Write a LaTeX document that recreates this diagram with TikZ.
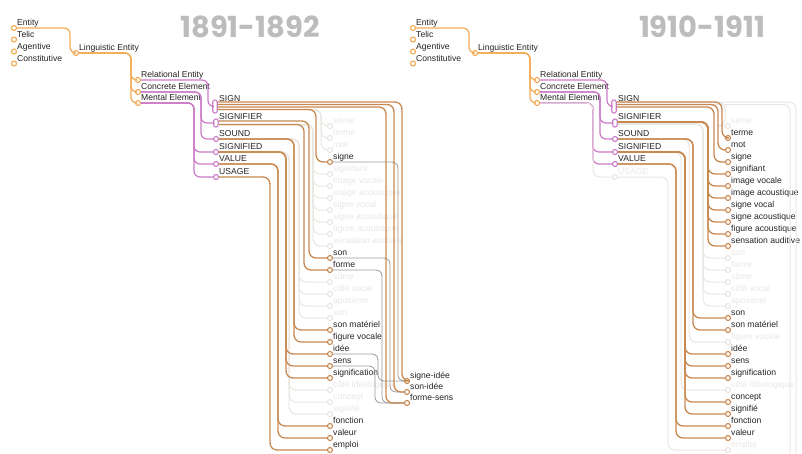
\documentclass[tikz,border=0pt]{standalone}
\usepackage{fontspec}
\setmainfont{Liberation Sans}
\newfontfamily\yearfont{Poppins}

\definecolor{lightor}{RGB}{243,170,85}
\definecolor{darkor}{RGB}{200,137,80}
\definecolor{pinkl}{RGB}{204,122,200}
\definecolor{txtc}{RGB}{35,35,35}
\definecolor{ghostc}{RGB}{234,230,226}
\definecolor{yearc}{RGB}{188,188,188}

\tikzset{
  knob/.style={circle, draw=#1, fill=white, line width=1.1pt, inner sep=0pt, minimum size=5pt},
  knob/.default=darkor,
  pill/.style={rounded corners=2pt, draw=pinkl, fill=white, line width=1.1pt, inner sep=0pt, minimum width=4.5pt, minimum height=#1},
  txt/.style={anchor=base west, inner sep=0pt, font=\fontsize{8.6}{9}\selectfont, text=txtc},
  faint/.style={txt, text=ghostc},
  topline/.style={draw=lightor, line width=1.2pt, rounded corners=6pt},
  pinkline/.style={draw=pinkl, line width=1.2pt, rounded corners=6pt},
  conn/.style={draw=darkor, line width=1.35pt, rounded corners=7pt},
  ghostline/.style={draw=ghostc, line width=1pt, rounded corners=7pt},
  grayline/.style={draw=black!40, line width=0.8pt, rounded corners=6pt},
  year/.style={font=\yearfont\bfseries\fontsize{29}{29}\selectfont, text=yearc}
}

\newcommand\term[5][darkor]{\node[knob=#1] (#2) at ({#3},{#4}) {};
  \node[txt] (#2-t) at ({#3+3},{#4-2.5}) {#5};}
\newcommand\ghost[4]{\node[knob=ghostc] (#1) at ({#2},{#3}) {};
  \node[faint] (#1-t) at ({#2+3},{#3-2.5}) {#4};}
\newcommand\branch[4][conn]{\draw[#1] (#2) -| (#4,0 |- #3) -- (#3);}

\newcommand\core[2]{%
  \term[lightor]{#1Entity}{#2+14}{28}{Entity}
  \term[lightor]{#1Telic}{#2+14}{39.5}{Telic}
  \term[lightor]{#1Agentive}{#2+14}{51.5}{Agentive}
  \term[lightor]{#1Constitutive}{#2+14}{63.5}{Constitutive}
  \term[lightor]{#1LingEntity}{#2+76}{53}{Linguistic Entity}
  \term[lightor]{#1RelEntity}{#2+138}{80}{Relational Entity}
  \term[lightor]{#1ConcElement}{#2+138}{92}{Concrete Element}
  \term[lightor]{#1MentElement}{#2+138}{103}{Mental Element}
  \node[pill=13pt] (#1SIGN) at ({#2+215},106.5) {};
  \node[txt] (#1SIGN-t) at ({#2+219},101) {SIGN};
  \node[pill=8pt] (#1SIGNIFIER) at ({#2+216},123) {};
  \node[txt] (#1SIGNIFIER-t) at ({#2+219},119.5) {SIGNIFIER};
  \term[pinkl]{#1SOUND}{#2+216}{139}{SOUND}
  \term[pinkl]{#1SIGNIFIED}{#2+216}{152}{SIGNIFIED}
  \term[pinkl]{#1VALUE}{#2+216}{164}{VALUE}
  \branch[topline]{#1Entity}{#1LingEntity}{#2+70}
  \branch[topline]{#1LingEntity}{#1RelEntity}{#2+131}
  \branch[topline]{#1LingEntity}{#1ConcElement}{#2+131}
  \branch[topline]{#1LingEntity}{#1MentElement}{#2+131}
  \branch[pinkline]{#1RelEntity}{#1SIGN}{#2+208}
  \branch[pinkline]{#1ConcElement}{#1SIGNIFIER}{#2+201}
  \branch[pinkline]{#1ConcElement}{#1SOUND}{#2+201}
  \branch[pinkline]{#1MentElement}{#1SIGNIFIED}{#2+194}
  \branch[pinkline]{#1MentElement}{#1VALUE}{#2+194}
}

\begin{document}
\begin{tikzpicture}[x=1pt,y=-1pt]
  \useasboundingbox (0,0) rectangle (802,453);

  \node[year] (L-year) at (250,27) {1891-1892};
  \node[year] (R-year) at (702,27) {1910-1911};

  \core{L-}{0}
  \core{R-}{399}

  \term[pinkl]{L-USAGE}{216}{177}{USAGE}
  \branch[pinkline]{L-MentElement}{L-USAGE}{194}
  \ghost{R-USAGE}{615}{177}{USAGE}
  \branch[ghostline]{R-MentElement}{R-USAGE}{593}

  % 1891-1892
  \ghost{L-seme}{330}{126}{sème}
  \ghost{L-terme}{330}{138}{terme}
  \ghost{L-mot}{330}{150}{mot}
  \term{L-signe}{330}{162}{signe}
  \ghost{L-signifiant}{330}{174}{signifiant}
  \ghost{L-imvoc}{330}{186}{image vocale}
  \ghost{L-imac}{330}{198}{image acoustique}
  \ghost{L-sgvoc}{330}{210}{signe vocal}
  \ghost{L-sgac}{330}{222}{signe acoustique}
  \ghost{L-figac}{330}{234}{figure acoustique}
  \ghost{L-sensaud}{330}{246}{sensation auditive}
  \term{L-son}{330}{258}{son}
  \term{L-forme}{330}{270}{forme}
  \ghost{L-some}{330}{282}{sôme}
  \ghost{L-cotevoc}{330}{294}{côté vocal}
  \ghost{L-aposeme}{330}{306}{aposème}
  \ghost{L-son2}{330}{318}{son}
  \term{L-sonmat}{330}{330}{son matériel}
  \term{L-figvoc}{330}{342}{figure vocale}
  \term{L-idee}{330}{354}{idée}
  \term{L-sens}{330}{366}{sens}
  \term{L-signif}{330}{378}{signification}
  \ghost{L-coteid}{330}{390}{côté idéologique}
  \ghost{L-concept}{330}{402}{concept}
  \ghost{L-signifie}{330}{414}{signifié}
  \term{L-fonction}{330}{426}{fonction}
  \term{L-valeur}{330}{438}{valeur}
  \term{L-emploi}{330}{450}{emploi}
  \term{L-signeidee}{407}{381}{signe-idée}
  \term{L-sonidee}{407}{392}{son-idée}
  \term{L-formesens}{407}{403}{forme-sens}

  \branch[ghostline]{[yshift=-3pt]L-SIGN.east}{L-seme}{321}
  \branch[ghostline]{[yshift=-3pt]L-SIGN.east}{L-terme}{321}
  \branch[ghostline]{[yshift=-3pt]L-SIGN.east}{L-mot}{321}
  \foreach \g in {signifiant,imvoc,imac,sgvoc,sgac,figac,sensaud}
    \branch[ghostline]{[yshift=-1.5pt]L-SIGNIFIER.east}{L-\g}{313};
  \foreach \g in {some,cotevoc,aposeme,son2}
    \branch[ghostline]{L-SOUND}{L-\g}{299};
  \foreach \g in {coteid,concept,signifie}
    \branch[ghostline]{L-SIGNIFIED}{L-\g}{289};

  \branch[grayline]{L-signe}{L-signeidee}{398}
  \branch[grayline]{L-son}{L-sonidee}{390}
  \branch[grayline]{L-forme}{L-formesens}{382}
  \branch[grayline]{L-idee}{L-signeidee}{378}
  \branch[grayline]{L-sens}{L-formesens}{375}

  \branch{[yshift=4.5pt]L-SIGN.east}{L-signeidee}{402}
  \branch{[yshift=2pt]L-SIGN.east}{L-sonidee}{394}
  \branch{[yshift=-0.5pt]L-SIGN.east}{L-formesens}{386}
  \branch{[yshift=-3pt]L-SIGN.east}{L-signe}{316}
  \branch{[yshift=2pt]L-SIGNIFIER.east}{L-son}{309}
  \branch{[yshift=-1.5pt]L-SIGNIFIER.east}{L-forme}{304}
  \branch{L-SOUND}{L-sonmat}{294}
  \branch{L-SOUND}{L-figvoc}{294}
  \branch{L-SIGNIFIED}{L-idee}{286}
  \branch{L-SIGNIFIED}{L-sens}{286}
  \branch{L-SIGNIFIED}{L-signif}{286}
  \branch{L-VALUE}{L-fonction}{278}
  \branch{L-VALUE}{L-valeur}{278}
  \branch{L-USAGE}{L-emploi}{270}

  % 1910-1911
  \ghost{R-seme}{728}{126}{sème}
  \term{R-terme}{728}{138}{terme}
  \term{R-mot}{728}{150}{mot}
  \term{R-signe}{728}{162}{signe}
  \term{R-signifiant}{728}{174}{signifiant}
  \term{R-imvoc}{728}{186}{image vocale}
  \term{R-imac}{728}{198}{image acoustique}
  \term{R-sgvoc}{728}{210}{signe vocal}
  \term{R-sgac}{728}{222}{signe acoustique}
  \term{R-figac}{728}{234}{figure acoustique}
  \term{R-sensaud}{728}{246}{sensation auditive}
  \ghost{R-son}{728}{258}{son}
  \ghost{R-forme}{728}{270}{forme}
  \ghost{R-some}{728}{282}{sôme}
  \ghost{R-cotevoc}{728}{294}{côté vocal}
  \ghost{R-aposeme}{728}{306}{aposème}
  \term{R-son2}{728}{318}{son}
  \term{R-sonmat}{728}{330}{son matériel}
  \ghost{R-figvoc}{728}{342}{figure vocale}
  \term{R-idee}{728}{354}{idée}
  \term{R-sens}{728}{366}{sens}
  \term{R-signif}{728}{378}{signification}
  \ghost{R-coteid}{728}{390}{côté idéologique}
  \term{R-concept}{728}{402}{concept}
  \term{R-signifie}{728}{414}{signifié}
  \term{R-fonction}{728}{426}{fonction}
  \term{R-valeur}{728}{438}{valeur}
  \ghost{R-emploi}{728}{450}{emploi}
  \coordinate (R-off1) at (790,453);
  \coordinate (R-off2) at (796,453);

  \branch[ghostline]{[yshift=4.5pt]R-SIGN.east}{R-seme}{725}
  \draw[ghostline] ([yshift=4.5pt]R-SIGN.east) -| (R-off2);
  \draw[ghostline] ([yshift=2pt]R-SIGN.east) -| (R-off1);
  \foreach \g in {son,forme,some,cotevoc,aposeme}
    \branch[ghostline]{[yshift=-1pt]R-SIGNIFIER.east}{R-\g}{703};
  \branch[ghostline]{R-SOUND}{R-figvoc}{689}
  \branch[ghostline]{R-SIGNIFIED}{R-coteid}{681}
  \branch[ghostline]{R-USAGE}{R-emploi}{668}

  \branch{[yshift=4.5pt]R-SIGN.east}{R-terme}{722}
  \branch{[yshift=2pt]R-SIGN.east}{R-mot}{718}
  \branch{[yshift=-0.5pt]R-SIGN.east}{R-signe}{714}
  \foreach \g in {signifiant,imvoc,imac,sgvoc,sgac,figac,sensaud}
    \branch{[yshift=1pt]R-SIGNIFIER.east}{R-\g}{708};
  \branch{R-SOUND}{R-son2}{693}
  \branch{R-SOUND}{R-sonmat}{693}
  \foreach \g in {idee,sens,signif,concept,signifie}
    \branch{R-SIGNIFIED}{R-\g}{685};
  \branch{R-VALUE}{R-fonction}{676}
  \branch{R-VALUE}{R-valeur}{676}
\end{tikzpicture}
\end{document}
